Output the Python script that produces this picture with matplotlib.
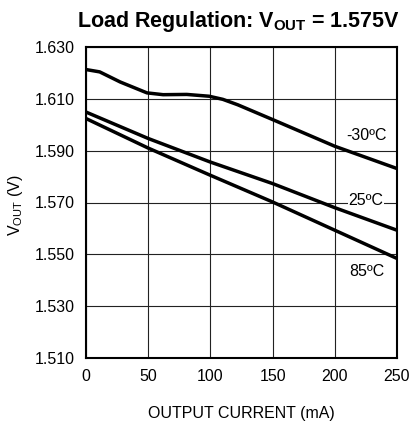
import numpy as np
import matplotlib.pyplot as plt

plt.rcParams['font.family'] = ['Liberation Sans', 'DejaVu Sans']

# output current (mA)
current = [0, 11, 27.5, 49, 62, 81, 99, 110, 122, 150, 200, 250]
# output voltage (V) per temperature
v_m30 = [1.6213, 1.6204, 1.6165, 1.6123, 1.6116, 1.6117, 1.6110, 1.6098, 1.6077, 1.6020, 1.5917, 1.5831]
current_lin = [0, 50, 100, 150, 200, 250]
v_25 = [1.6049, 1.5947, 1.5856, 1.5773, 1.5680, 1.5593]
v_85 = [1.6024, 1.5910, 1.5805, 1.5702, 1.5593, 1.5484]

labels = ['-30ºC', '25ºC', '85ºC']

fig = plt.figure(figsize=(4.11, 4.21), dpi=100)
ax = fig.add_axes([86/411, 1 - 358/421, 311/411, 311/421])

ax.plot(current, v_m30, color='black', lw=2.5, zorder=3)
ax.plot(current_lin, v_25, color='black', lw=2.5, zorder=3)
ax.plot(current_lin, v_85, color='black', lw=2.5, zorder=3)

ax.set_xlim(0, 250)
ax.set_ylim(1.510, 1.630)
ax.set_xticks(np.arange(0, 251, 50))
yt = np.arange(1.510, 1.631, 0.020)
ax.set_yticks(yt)
ax.set_yticklabels([f'{t:.3f}' for t in yt])
ax.grid(True, color='#222222', lw=0.8)
ax.tick_params(length=0, labelsize=11.5, pad=8)
for s in ax.spines.values():
    s.set_linewidth(1.5)

ax.text(225.5, 1.5959, labels[0], fontsize=11.5, ha='center', va='center', zorder=4)
ax.text(225, 1.5708, labels[1], fontsize=11.5, ha='center', va='center', zorder=4,
        bbox=dict(facecolor='white', edgecolor='none', pad=0.3))
ax.text(225.5, 1.5435, labels[2], fontsize=11.5, ha='center', va='center', zorder=4)

ax.set_xlabel('OUTPUT CURRENT (mA)', fontsize=11.5, labelpad=16)
ax.set_ylabel('V$_{\\mathregular{OUT}}$ (V)', fontsize=11.5)
ax.yaxis.set_label_coords(-0.196, 0.49)
fig.text(238/411, 1 - 21/421, 'Load Regulation: V$_{\\mathregular{OUT}}$ = 1.575V',
         fontsize=15.5, fontweight='bold', ha='center', va='center')

fig.savefig('out.png', dpi=100)
